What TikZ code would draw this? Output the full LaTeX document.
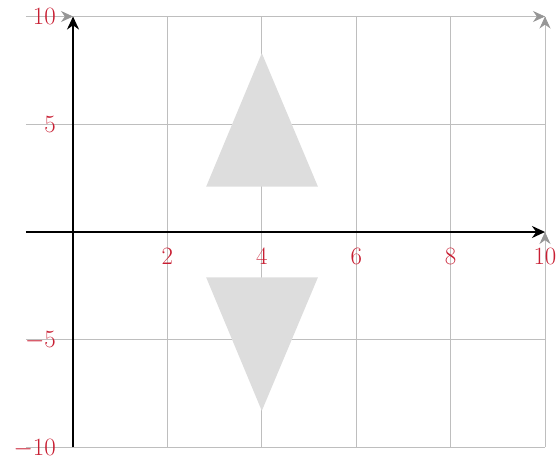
\documentclass[tikz,border=0pt]{standalone}
\usetikzlibrary{arrows.meta}
\definecolor{labc}{RGB}{200,30,50}
\definecolor{gridc}{RGB}{190,190,190}
\definecolor{tipc}{RGB}{150,150,150}
\definecolor{tric}{RGB}{221,221,221}
\begin{document}
\begin{tikzpicture}[x=47.2pt,y=21.55pt,
  gridline/.style={gridc, line width=0.8pt},
  graytip/.style={gridc, line width=0.8pt, -{Stealth[length=12pt,width=11pt,color=tipc]}},
  axisline/.style={black, line width=2.2pt, -{Stealth[length=13pt,width=12pt]}},
  tri/.style={fill=tric, draw=none},
  ylab/.style={labc, anchor=east, inner sep=0pt, text height=16pt, text depth=0pt, font=\fontsize{25}{30}\selectfont, xshift=-17pt},
  xlab/.style={labc, anchor=north, inner sep=0pt, text height=16pt, text depth=0pt, font=\fontsize{25}{30}\selectfont, yshift=-16pt}]
\useasboundingbox (-1.547,-10.44) rectangle (10.233,10.766);
\draw[gridline] (-1,-10) grid[xstep=2,ystep=5] (10,10);
% gray arrow tips
\coordinate (tl) at (0,10);
\coordinate (tr) at (10,10);
\coordinate (xr) at (10,0);
\draw[graytip] (-0.5,10) -- (tl);
\draw[graytip] (9,10) -- (tr);
\draw[graytip] (10,9) -- (tr);
\draw[graytip] (10,-1) -- (xr);
% triangles
\fill[tri] (2.82,2.1) -- (5.19,2.1) -- (4,8.3) -- cycle;
\fill[tri] (2.82,-2.1) -- (5.19,-2.1) -- (4,-8.3) -- cycle;
% axes
\coordinate (xs) at (-1,0);
\coordinate (xe) at (10,0);
\coordinate (ys) at (0,-10);
\coordinate (ye) at (0,10);
\draw[axisline] (xs) -- (xe);
\draw[axisline] (ys) -- (ye);
% labels
\foreach \x in {2,4,6,8,10} \node[xlab] (lx\x) at (\x,0) {$\x$};
\node[ylab] (ly10) at (0,10) {$10$};
\node[ylab] (ly5) at (0,5) {$5$};
\node[ylab] (lym5) at (0,-5) {$-5$};
\node[ylab] (lym10) at (0,-10) {$-10$};
\end{tikzpicture}
\end{document}
